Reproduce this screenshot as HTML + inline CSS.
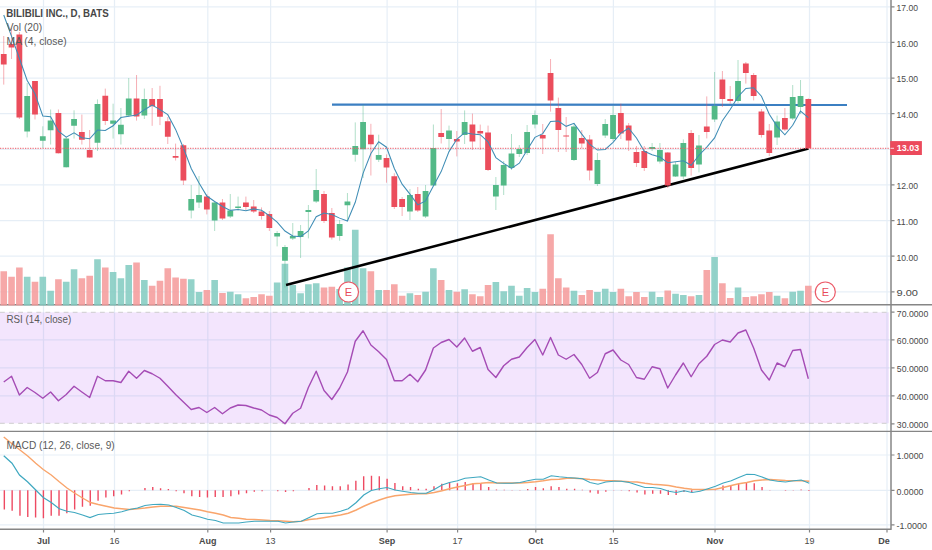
<!DOCTYPE html><html><head><meta charset="utf-8"><style>html,body{margin:0;padding:0;background:#fff;width:932px;height:550px;overflow:hidden}svg{display:block;font-family:"Liberation Sans",sans-serif}</style></head><body>
<svg width="932" height="550" viewBox="0 0 932 550">
<rect x="0" y="0" width="932" height="550" fill="#fff"/>
<rect x="0" y="312.3" width="889" height="111" fill="#f3e5fd"/>
<path d="M0 291.8 H890 M0 256.18 H890 M0 220.55 H890 M0 184.93 H890 M0 149.3 H890 M0 113.68 H890 M0 78.05 H890 M0 42.43 H890 M0 6.8 H890 M0 339.9 H890 M0 367.9 H890 M0 395.8 H890 M0 455 H890 M0 490.3 H890 M0 524.8 H890 M43.5 0 V529 M114.5 0 V529 M207.8 0 V529 M270.6 0 V529 M387.1 0 V529 M457.6 0 V529 M535.8 0 V529 M613.4 0 V529 M715 0 V529 M809.5 0 V529 M887 0 V529" stroke="rgb(100,150,200)" stroke-opacity="0.16" stroke-width="1.2" fill="none"/>
<path d="M0 312.3 H890 M0 423.3 H890" stroke="#c9c9c9" stroke-width="0.9" stroke-dasharray="4.8 4.29" fill="none"/>
<path d="M0 304.8 H932 M0 431.4 H932" stroke="#868686" stroke-width="1.4" fill="none"/>
<path d="M23.88 276.75 h6.6 V305.4 h-6.6 Z M39.5 276.75 h6.6 V305.4 h-6.6 Z M47.31 290.75 h6.6 V305.4 h-6.6 Z M62.93 281.75 h6.6 V305.4 h-6.6 Z M70.75 269.25 h6.6 V305.4 h-6.6 Z M94.18 259.25 h6.6 V305.4 h-6.6 Z M109.8 272 h6.6 V305.4 h-6.6 Z M117.61 278.25 h6.6 V305.4 h-6.6 Z M125.43 265 h6.6 V305.4 h-6.6 Z M141.05 280 h6.6 V305.4 h-6.6 Z M187.92 279.25 h6.6 V305.4 h-6.6 Z M195.73 292 h6.6 V305.4 h-6.6 Z M211.35 280 h6.6 V305.4 h-6.6 Z M226.98 291.75 h6.6 V305.4 h-6.6 Z M234.79 294.25 h6.6 V305.4 h-6.6 Z M273.84 282.5 h6.6 V305.4 h-6.6 Z M281.66 263.75 h6.6 V305.4 h-6.6 Z M289.47 285 h6.6 V305.4 h-6.6 Z M297.28 293.25 h6.6 V305.4 h-6.6 Z M305.09 284.25 h6.6 V305.4 h-6.6 Z M312.9 283.25 h6.6 V305.4 h-6.6 Z M336.34 288.9 h6.6 V305.4 h-6.6 Z M344.15 267.5 h6.6 V305.4 h-6.6 Z M351.96 229.8 h6.6 V305.4 h-6.6 Z M359.77 268.25 h6.6 V305.4 h-6.6 Z M375.39 290 h6.6 V305.4 h-6.6 Z M406.64 293.25 h6.6 V305.4 h-6.6 Z M422.26 291.75 h6.6 V305.4 h-6.6 Z M430.07 268.25 h6.6 V305.4 h-6.6 Z M445.7 290 h6.6 V305.4 h-6.6 Z M461.32 289.25 h6.6 V305.4 h-6.6 Z M492.57 282 h6.6 V305.4 h-6.6 Z M500.38 291.25 h6.6 V305.4 h-6.6 Z M508.19 285.75 h6.6 V305.4 h-6.6 Z M516 295.75 h6.6 V305.4 h-6.6 Z M523.81 288 h6.6 V305.4 h-6.6 Z M531.62 292 h6.6 V305.4 h-6.6 Z M570.68 290.75 h6.6 V305.4 h-6.6 Z M594.12 292 h6.6 V305.4 h-6.6 Z M601.93 288.75 h6.6 V305.4 h-6.6 Z M609.74 292 h6.6 V305.4 h-6.6 Z M648.8 291.75 h6.6 V305.4 h-6.6 Z M656.61 297 h6.6 V305.4 h-6.6 Z M672.23 293.75 h6.6 V305.4 h-6.6 Z M680.04 295 h6.6 V305.4 h-6.6 Z M695.67 295 h6.6 V305.4 h-6.6 Z M711.29 257 h6.6 V305.4 h-6.6 Z M734.72 287.5 h6.6 V305.4 h-6.6 Z M773.78 295.75 h6.6 V305.4 h-6.6 Z M789.4 291.75 h6.6 V305.4 h-6.6 Z M797.22 290.75 h6.6 V305.4 h-6.6 Z" fill="#80cabf" fill-opacity="0.85"/>
<path d="M0.44 271.25 h6.6 V305.4 h-6.6 Z M8.25 276.75 h6.6 V305.4 h-6.6 Z M16.07 267.5 h6.6 V305.4 h-6.6 Z M31.69 281.75 h6.6 V305.4 h-6.6 Z M55.12 279.25 h6.6 V305.4 h-6.6 Z M78.56 278.25 h6.6 V305.4 h-6.6 Z M86.37 275.75 h6.6 V305.4 h-6.6 Z M101.99 267.5 h6.6 V305.4 h-6.6 Z M133.24 262.5 h6.6 V305.4 h-6.6 Z M148.86 285.75 h6.6 V305.4 h-6.6 Z M156.67 280.75 h6.6 V305.4 h-6.6 Z M164.48 268.25 h6.6 V305.4 h-6.6 Z M172.3 277.5 h6.6 V305.4 h-6.6 Z M180.11 278.75 h6.6 V305.4 h-6.6 Z M203.54 290 h6.6 V305.4 h-6.6 Z M219.16 293 h6.6 V305.4 h-6.6 Z M242.6 298.25 h6.6 V305.4 h-6.6 Z M250.41 297 h6.6 V305.4 h-6.6 Z M258.22 294.25 h6.6 V305.4 h-6.6 Z M266.03 295.75 h6.6 V305.4 h-6.6 Z M320.71 287.5 h6.6 V305.4 h-6.6 Z M328.53 286.75 h6.6 V305.4 h-6.6 Z M367.58 271.25 h6.6 V305.4 h-6.6 Z M383.21 290 h6.6 V305.4 h-6.6 Z M391.02 284.25 h6.6 V305.4 h-6.6 Z M398.83 295.75 h6.6 V305.4 h-6.6 Z M414.45 295 h6.6 V305.4 h-6.6 Z M437.89 280 h6.6 V305.4 h-6.6 Z M453.51 291.75 h6.6 V305.4 h-6.6 Z M469.13 294.25 h6.6 V305.4 h-6.6 Z M476.94 296.25 h6.6 V305.4 h-6.6 Z M484.76 285 h6.6 V305.4 h-6.6 Z M539.44 288.75 h6.6 V305.4 h-6.6 Z M547.25 234.2 h6.6 V305.4 h-6.6 Z M555.06 278.25 h6.6 V305.4 h-6.6 Z M562.87 287.5 h6.6 V305.4 h-6.6 Z M578.49 295 h6.6 V305.4 h-6.6 Z M586.3 290 h6.6 V305.4 h-6.6 Z M617.55 288.75 h6.6 V305.4 h-6.6 Z M625.36 296.25 h6.6 V305.4 h-6.6 Z M633.17 292 h6.6 V305.4 h-6.6 Z M640.99 297 h6.6 V305.4 h-6.6 Z M664.42 290.5 h6.6 V305.4 h-6.6 Z M687.85 296.25 h6.6 V305.4 h-6.6 Z M703.48 270 h6.6 V305.4 h-6.6 Z M719.1 283.25 h6.6 V305.4 h-6.6 Z M726.91 298 h6.6 V305.4 h-6.6 Z M742.53 297 h6.6 V305.4 h-6.6 Z M750.35 296.25 h6.6 V305.4 h-6.6 Z M758.16 294.25 h6.6 V305.4 h-6.6 Z M765.97 292 h6.6 V305.4 h-6.6 Z M781.59 298.25 h6.6 V305.4 h-6.6 Z M805.03 285.75 h6.6 V305.4 h-6.6 Z" fill="#f49999" fill-opacity="0.85"/>
<line x1="332" y1="104.6" x2="847" y2="104.9" stroke="#3b7fc2" stroke-width="2.2"/>
<line x1="286" y1="285" x2="808.5" y2="148.6" stroke="#000" stroke-width="2.6"/>
<path d="M27.18 83 V137.4 M42.8 126.3 V148 M50.61 109.5 V144.5 M66.23 137 V167.5 M74.05 110.3 V138.6 M97.48 99.4 V151 M113.1 103.7 V138.6 M120.91 108 V144.5 M128.73 78 V117 M144.35 88.6 V119 M191.22 185 V218.4 M199.03 176 V208 M214.65 202 V231 M230.28 194 V218 M238.09 196.6 V210.4 M277.14 231 V246.4 M284.96 245 V287.5 M292.77 223 V240 M300.58 225 V258 M308.39 205 V238.4 M316.2 169 V203 M339.64 220 V240.7 M347.45 193 V220 M355.26 122.4 V161.6 M363.07 105 V178 M378.69 134.7 V162 M409.94 189 V220 M425.56 185 V218 M433.38 124.5 V186 M449 125.6 V150 M464.62 110.4 V144 M495.87 177 V210 M503.68 161 V195 M511.49 134 V170 M519.3 145 V157 M527.11 125 V155 M534.92 110.4 V128.4 M573.98 123 V161 M597.42 153 V186 M605.23 119 V138 M613.04 106 V141 M652.1 143 V151 M659.91 143 V163.6 M675.53 162 V177 M683.34 139.4 V179 M698.97 135 V172.4 M714.59 72 V122 M738.02 60 V103 M777.08 115.6 V145 M792.7 85 V120 M800.52 80 V114" stroke="#53b987" stroke-width="0.9" stroke-opacity="0.5" fill="none"/>
<path d="M3.74 36 V84.6 M11.55 28 V59 M19.37 32 V119 M34.99 81 V119.5 M58.42 109.5 V153.5 M81.86 114.6 V144.5 M89.67 130 V157.8 M105.29 88.6 V125 M136.54 75 V120.6 M152.16 88 V125.8 M159.97 85.8 V125.1 M167.78 117.1 V144 M175.6 143.6 V160.5 M183.41 144 V185 M206.84 194 V214.4 M222.46 199 V220 M245.9 196.6 V210 M253.71 200 V213 M261.52 207.4 V219.6 M269.33 211 V231 M324.01 191 V223 M331.83 208 V239.6 M370.88 123.8 V175.5 M386.51 154.4 V182.7 M394.32 173.3 V209 M402.13 197 V216 M417.75 187 V212 M441.19 109 V143.5 M456.81 131 V156.4 M472.43 113.6 V150 M480.24 124.6 V150 M488.06 125.6 V171 M542.74 124 V154 M550.55 59 V111.6 M558.36 97.6 V152 M566.17 117 V152 M581.79 130 V148 M589.6 135 V180.4 M620.85 103.6 V139 M628.66 123 V151 M636.47 146 V167 M644.29 146 V171 M667.72 152 V188 M691.15 130 V175.6 M706.78 96.4 V138.4 M722.4 71 V107 M730.21 86 V103.6 M745.83 62 V83.6 M753.65 73 V100.4 M761.46 109 V137.6 M769.27 124 V156 M784.89 108 V131 M808.33 98.4 V149" stroke="#eb4d5c" stroke-width="0.9" stroke-opacity="0.5" fill="none"/>
<path d="M24.28 96 h5.8 v35.4 h-5.8 Z M39.9 136.2 h5.8 v4.6 h-5.8 Z M47.71 120.5 h5.8 v9.7 h-5.8 Z M63.33 138.6 h5.8 v28.7 h-5.8 Z M71.15 119 h5.8 v6.8 h-5.8 Z M94.58 104 h5.8 v38.7 h-5.8 Z M110.2 120.5 h5.8 v3.2 h-5.8 Z M118.01 124.8 h5.8 v9.5 h-5.8 Z M125.83 98.4 h5.8 v17 h-5.8 Z M141.45 99 h5.8 v16.4 h-5.8 Z M188.32 199 h5.8 v11.4 h-5.8 Z M196.13 195 h5.8 v7.6 h-5.8 Z M211.75 202.6 h5.8 v18 h-5.8 Z M227.38 210.6 h5.8 v6 h-5.8 Z M235.19 206.4 h5.8 v1.6 h-5.8 Z M274.25 233 h5.8 v3.6 h-5.8 Z M282.06 247 h5.8 v13.8 h-5.8 Z M289.87 236 h5.8 v2.4 h-5.8 Z M297.68 231 h5.8 v6 h-5.8 Z M305.49 210 h5.8 v2 h-5.8 Z M313.3 190 h5.8 v11.4 h-5.8 Z M336.74 224.1 h5.8 v11.8 h-5.8 Z M344.55 201.6 h5.8 v3.6 h-5.8 Z M352.36 146 h5.8 v8.8 h-5.8 Z M360.17 122 h5.8 v27.3 h-5.8 Z M375.79 155.1 h5.8 v4.6 h-5.8 Z M407.04 195 h5.8 v16.6 h-5.8 Z M422.66 191 h5.8 v25.6 h-5.8 Z M430.48 148.1 h5.8 v37.5 h-5.8 Z M446.1 130.4 h5.8 v8.6 h-5.8 Z M461.72 122 h5.8 v13 h-5.8 Z M492.97 185 h5.8 v11.4 h-5.8 Z M500.78 165 h5.8 v20.6 h-5.8 Z M508.59 153.6 h5.8 v14.4 h-5.8 Z M516.4 149 h5.8 v5 h-5.8 Z M524.21 132 h5.8 v21 h-5.8 Z M532.02 115 h5.8 v9.4 h-5.8 Z M571.08 126.4 h5.8 v33.6 h-5.8 Z M594.52 160 h5.8 v24 h-5.8 Z M602.33 124 h5.8 v11.6 h-5.8 Z M610.14 115 h5.8 v24 h-5.8 Z M649.2 147 h5.8 v2 h-5.8 Z M657.01 150 h5.8 v11.6 h-5.8 Z M672.63 164.4 h5.8 v12 h-5.8 Z M680.44 143 h5.8 v33.4 h-5.8 Z M696.07 145.6 h5.8 v18.8 h-5.8 Z M711.69 106 h5.8 v13.6 h-5.8 Z M735.12 81 h5.8 v20 h-5.8 Z M774.18 121.6 h5.8 v16 h-5.8 Z M789.8 97 h5.8 v21.6 h-5.8 Z M797.62 96 h5.8 v11 h-5.8 Z" fill="#53b987"/>
<path d="M0.84 54 h5.8 v10.6 h-5.8 Z M8.65 44 h5.8 v3.4 h-5.8 Z M16.47 34.6 h5.8 v82.8 h-5.8 Z M32.09 81 h5.8 v33.4 h-5.8 Z M55.52 112.9 h5.8 v40.3 h-5.8 Z M78.96 132 h5.8 v7.8 h-5.8 Z M86.77 150 h5.8 v7.5 h-5.8 Z M102.39 95.7 h5.8 v25.2 h-5.8 Z M133.64 98.4 h5.8 v18.2 h-5.8 Z M149.26 98.9 h5.8 v7.3 h-5.8 Z M157.07 98.9 h5.8 v17.9 h-5.8 Z M164.88 121.2 h5.8 v15.5 h-5.8 Z M172.7 155.9 h5.8 v1.9 h-5.8 Z M180.51 145.2 h5.8 v35.4 h-5.8 Z M203.94 196.6 h5.8 v13 h-5.8 Z M219.56 202.4 h5.8 v16.2 h-5.8 Z M243 202.6 h5.8 v4.4 h-5.8 Z M250.81 206.4 h5.8 v5.2 h-5.8 Z M258.62 211.6 h5.8 v4.4 h-5.8 Z M266.43 214 h5.8 v14 h-5.8 Z M321.11 194 h5.8 v27 h-5.8 Z M328.93 213 h5.8 v24.4 h-5.8 Z M367.98 134.7 h5.8 v9.5 h-5.8 Z M383.61 158 h5.8 v9.5 h-5.8 Z M391.42 176.2 h5.8 v30.8 h-5.8 Z M399.23 199 h5.8 v8 h-5.8 Z M414.85 194 h5.8 v16.4 h-5.8 Z M438.29 133 h5.8 v3.9 h-5.8 Z M453.91 139 h5.8 v2.6 h-5.8 Z M469.53 124.6 h5.8 v17 h-5.8 Z M477.34 131 h5.8 v2.6 h-5.8 Z M485.16 132.6 h5.8 v37.4 h-5.8 Z M539.84 135 h5.8 v3.4 h-5.8 Z M547.65 73 h5.8 v27.4 h-5.8 Z M555.46 108 h5.8 v22 h-5.8 Z M563.27 135.4 h5.8 v1.2 h-5.8 Z M578.89 138 h5.8 v5.4 h-5.8 Z M586.7 139.6 h5.8 v30.8 h-5.8 Z M617.95 113 h5.8 v20.4 h-5.8 Z M625.76 125.6 h5.8 v15 h-5.8 Z M633.57 152 h5.8 v11 h-5.8 Z M641.39 151 h5.8 v17 h-5.8 Z M664.82 152.6 h5.8 v33 h-5.8 Z M688.25 133 h5.8 v35 h-5.8 Z M703.88 126.4 h5.8 v5.6 h-5.8 Z M719.5 79.4 h5.8 v19.6 h-5.8 Z M727.31 99 h5.8 v2 h-5.8 Z M742.93 63.6 h5.8 v9.4 h-5.8 Z M750.75 75 h5.8 v21 h-5.8 Z M758.56 111.4 h5.8 v23.6 h-5.8 Z M766.37 130.4 h5.8 v22.6 h-5.8 Z M781.99 118 h5.8 v11.6 h-5.8 Z M805.43 99 h5.8 v49.2 h-5.8 Z" fill="#eb4d5c"/>
<polyline points="3.74,15 11.55,36.4 19.37,58.2 27.18,80.5 34.99,93.8 42.8,116 50.61,116.78 58.42,131.07 66.23,137.12 74.05,132.82 81.86,137.65 89.67,138.73 97.48,130.07 105.29,130.55 113.1,125.72 120.91,117.55 128.73,116.15 136.54,115.08 144.35,109.7 152.16,105.05 159.97,109.65 167.78,114.67 175.6,129.38 183.41,147.97 191.22,168.53 199.03,183.1 206.84,196.05 214.65,201.55 222.46,206.45 230.28,210.35 238.09,209.55 245.9,210.65 253.71,208.9 261.52,210.25 269.33,215.65 277.14,222.15 284.96,231 292.77,236 300.58,236.75 308.39,231 316.2,216.75 324.01,213 331.83,214.6 339.64,218.12 347.45,221.02 355.26,202.28 363.07,173.43 370.88,153.45 378.69,141.82 386.51,147.2 394.32,168.45 402.13,184.15 409.94,194.12 417.75,204.85 425.56,200.85 433.38,186.12 441.19,171.6 449,151.6 456.81,139.25 464.62,132.72 472.43,133.9 480.24,134.7 488.06,141.8 495.87,157.55 503.68,163.4 511.49,168.4 519.3,163.15 527.11,149.9 534.92,137.4 542.74,133.6 550.55,121.45 558.36,120.95 566.17,126.35 573.98,123.35 581.79,134.1 589.6,144.2 597.42,150.05 605.23,149.45 613.04,142.35 620.85,133.1 628.66,128.25 636.47,138 644.29,151.25 652.1,154.65 659.91,157 667.72,162.65 675.53,161.75 683.34,160.75 691.15,165.25 698.97,155.25 706.78,147.15 714.59,137.9 722.4,120.65 730.21,109.5 738.02,96.75 745.83,88.5 753.65,87.75 761.46,96.25 769.27,114.25 777.08,126.4 784.89,134.8 792.7,125.3 800.52,111.05 808.33,117.7" stroke="#3f8db5" stroke-width="1.05" fill="none"/>
<line x1="0" y1="148.3" x2="891" y2="148.3" stroke="#ef5a66" stroke-width="1" stroke-dasharray="1.25 1.25"/>
<circle cx="348.5" cy="292" r="10" fill="#fff" stroke="#ec5a68" stroke-width="1.2"/>
<text x="348.5" y="296" font-size="11" fill="#e84a5a" text-anchor="middle">E</text>
<circle cx="825.3" cy="292" r="10" fill="#fff" stroke="#ec5a68" stroke-width="1.2"/>
<text x="825.3" y="296" font-size="11" fill="#e84a5a" text-anchor="middle">E</text>
<polyline points="3.74,382 11.55,376.25 19.37,395 27.18,387.5 34.99,392.5 42.8,398.25 50.61,392 58.42,400.75 66.23,394.5 74.05,386.25 81.86,392 89.67,397.5 97.48,376.25 105.29,380.75 113.1,380.75 120.91,382.5 128.73,371.25 136.54,378.25 144.35,370.5 152.16,373.75 159.97,378.25 167.78,386.25 175.6,394.5 183.41,402 191.22,409.5 199.03,407.5 206.84,412.5 214.65,407.5 222.46,413.75 230.28,408 238.09,405 245.9,405.5 253.71,408 261.52,410 269.33,415 277.14,417.5 284.96,423.75 292.77,413.25 300.58,408.25 308.39,387.5 316.2,371.25 324.01,390.5 331.83,399.5 339.64,388 347.45,372 355.26,341.25 363.07,330.75 370.88,345 378.69,351.75 386.51,359.5 394.32,380.75 402.13,380.75 409.94,374.25 417.75,381.75 425.56,370 433.38,348 441.19,342.5 449,339.5 456.81,347 464.62,338 472.43,351.25 480.24,347.5 488.06,369.5 495.87,377.5 503.68,365.75 511.49,359.25 519.3,357 527.11,347.5 534.92,339.5 542.74,355 550.55,337.5 558.36,355 566.17,359.25 573.98,354.5 581.79,364.5 589.6,378.25 597.42,372.5 605.23,353.75 613.04,350 620.85,360 628.66,364.5 636.47,377.5 644.29,379.25 652.1,366.75 659.91,368.75 667.72,388 675.53,375 683.34,363 691.15,376.75 698.97,363.75 706.78,356.25 714.59,344.5 722.4,340 730.21,342 738.02,333 745.83,330 753.65,348 761.46,370 769.27,380 777.08,363 784.89,366.75 792.7,350.5 800.52,349.5 808.33,378.75" stroke="#a54cb5" stroke-width="1.4" fill="none" stroke-linejoin="round"/>
<path d="M4.34 490.3 V509.5 M12.15 490.3 V510.75 M19.97 490.3 V515.75 M27.78 490.3 V517 M35.59 490.3 V517.5 M43.4 490.3 V518.25 M51.21 490.3 V515.75 M59.02 490.3 V515.75 M66.83 490.3 V513.25 M74.65 490.3 V509.5 M82.46 490.3 V506.75 M90.27 490.3 V505.75 M98.08 490.3 V500.75 M105.89 490.3 V497.5 M113.7 490.3 V496.25 M121.51 490.3 V494.5 M129.33 490.3 V491.25 M144.95 490.3 V488 M152.76 490.3 V487 M160.57 490.3 V488.25 M168.38 490.3 V489 M176.2 490.3 V491.25 M184.01 490.3 V493.25 M191.82 490.3 V496.25 M199.63 490.3 V497 M207.44 490.3 V497.5 M215.25 490.3 V497 M223.06 490.3 V497 M230.88 490.3 V496.25 M238.69 490.3 V494.5 M246.5 490.3 V493.25 M254.31 490.3 V491.75 M262.12 490.3 V491.25 M277.75 490.3 V491.25 M285.56 490.3 V492 M293.37 490.3 V491.25 M308.99 490.3 V488 M316.8 490.3 V485 M324.61 490.3 V485.5 M332.43 490.3 V486.25 M340.24 490.3 V486.25 M348.05 490.3 V484.5 M355.86 490.3 V480.75 M363.67 490.3 V476.25 M371.48 490.3 V475.75 M379.29 490.3 V476.25 M387.11 490.3 V478.75 M394.92 490.3 V483 M402.73 490.3 V486.25 M410.54 490.3 V487 M418.35 490.3 V488.75 M426.16 490.3 V488.75 M433.98 490.3 V486.25 M441.79 490.3 V483.8 M449.6 490.3 V482.3 M457.41 490.3 V483.25 M465.22 490.3 V482 M473.03 490.3 V483 M480.84 490.3 V483 M488.66 490.3 V487 M496.47 490.3 V489.5 M504.28 490.3 V489.7 M512.09 490.3 V490 M519.9 490.3 V490 M527.71 490.3 V489 M535.52 490.3 V487 M543.34 490.3 V488.25 M551.15 490.3 V486.25 M558.96 490.3 V487 M566.77 490.3 V488.75 M574.58 490.3 V488.75 M582.39 490.3 V489.7 M590.2 490.3 V492.5 M598.02 490.3 V493.75 M605.83 490.3 V491.75 M613.64 490.3 V490 M621.45 490.3 V490 M629.26 490.3 V491.25 M637.07 490.3 V492.5 M644.89 490.3 V494.5 M652.7 490.3 V493.75 M660.51 490.3 V493.75 M668.32 490.3 V495 M676.13 490.3 V495 M683.94 490.3 V492 M691.75 490.3 V492.5 M699.57 490.3 V489.5 M715.19 490.3 V489.3 M723 490.3 V485.5 M730.81 490.3 V485 M738.62 490.3 V483.25 M746.43 490.3 V482 M754.25 490.3 V483.25 M762.06 490.3 V487 M769.87 490.3 V490 M785.49 490.3 V490.75 M793.3 490.3 V490 M801.12 490.3 V489.5 M808.93 490.3 V491" stroke="#ee4a62" stroke-width="1.4" fill="none"/>
<polyline points="3.75,437 12,443.75 20,450 28,456.25 35.75,463.25 43.25,469.5 51.25,475 59.25,481.75 67,488 74.5,493 82.5,498 90.5,502.5 98.25,504.5 106.25,506.25 114.25,508 121.75,508.75 129.5,509.5 137.5,508.75 145,508 153,507 160.75,506.25 168.75,506.25 176.25,506.25 184.25,507.5 192,508.75 200,510 207.5,511.75 215.5,513.25 223.25,515 230.75,517.5 238.75,518.25 246.25,519.25 254.5,519.5 262.5,520 270,520.5 278,520.75 285.5,521.25 293.25,521.75 301.25,521.25 309.25,519.5 317,518.75 325,517.5 332.5,516.25 340.5,515 348.25,513.25 356.25,510 363.75,506.25 371.25,503 379.25,500 387,497.5 395,495.75 402.5,495 410.75,494.25 418.25,493.75 426.25,493.75 434.25,492.5 442,490.75 449.5,488.75 457.5,487 465,485.5 473,483.75 480.75,483.25 488.75,482.5 496.75,483 504.5,483 512,483 520,483 527.5,482.5 535.5,481.75 543.25,480.75 551.25,479.5 559.25,479.25 567,478.25 574.5,478.25 582.5,478.75 590,479.5 598,480 605.75,480.75 613.75,480.75 621.25,481.25 629.25,481.75 637,482 645,483.25 652.5,484.25 660.5,484.75 668.75,485.5 676.25,487 684.25,488.25 692,489.25 700,489.5 708,489.5 715.5,489.25 723.25,487.5 731.25,485.5 738.75,483.75 746.75,482.5 754.5,480.75 762,480 770,479.5 777.5,480 785.5,480.5 793.75,480.75 801.25,480.75 809.25,481.25" stroke="#f9a56c" stroke-width="1.4" fill="none"/>
<polyline points="3.75,455.75 12,463.25 19.5,475 27.5,481.75 35.75,490 43.25,497.5 51.25,502.5 59.25,508.75 67,511.25 74.5,512.5 82.5,515 90,517.5 98.25,514.5 106.25,513.75 113.75,513.25 121.75,511.75 129.5,509.5 137.5,508 145,505.5 153,504.5 160.75,504.25 168.75,505 176.25,507.5 184.25,510.5 192,515 200,517 207.5,519.25 215.5,520.5 223.25,523 230.75,523 238.75,523 246.25,522 254.5,521.25 262.5,521.25 270,521.25 278,521.25 285.5,523 293.25,522 301.25,521.25 309.25,517.5 317,513.75 325,513.25 332.5,513.25 340.5,511.25 348.25,508.75 356.25,502.5 363.75,495 371.25,490.5 379.25,488.75 387,487.5 395,490 402.5,491.25 410.75,492.5 418.25,493.25 426.25,493.25 434.25,489.5 442,485 449.5,482.5 457.5,480.75 465,478.25 473,477.5 480.75,476.75 488.75,480 496.75,483 504.5,483.25 512,483.25 520,482.5 527.5,480.75 535.5,479.25 543.25,479.25 551.25,475.75 559.25,476.75 567,477.5 574.5,478 582.5,478.75 590,482.5 598,484.25 605.75,482 613.75,481.25 621.25,481.25 629.25,482.5 637,485 645,487.5 652.5,487.5 660.5,488.5 668.75,491.25 676.25,492.5 684.25,490.75 692,492.5 700,491.25 708,488.75 715.5,486.25 723.25,483 731.25,480.75 738.75,477.5 746.75,474.25 754.5,474.5 762,477 770,480 777.5,481.25 785.5,482 793.75,480.75 801.25,480 809.25,483.25" stroke="#3fa8c0" stroke-width="1.2" fill="none"/>
<path d="M891 0 V529.5 M0 529.3 H891.6" stroke="#868686" stroke-width="1.5" fill="none"/>
<path d="M43.5 529 V532.5 M114.5 529 V532.5 M207.8 529 V532.5 M270.6 529 V532.5 M387.1 529 V532.5 M457.6 529 V532.5 M535.8 529 V532.5 M613.4 529 V532.5 M715 529 V532.5 M809.5 529 V532.5 M887 529 V532.5" stroke="#868686" stroke-width="1.2" fill="none"/>
<path d="M891 291.8 H894.5 M891 256.18 H894.5 M891 220.55 H894.5 M891 184.93 H894.5 M891 149.3 H894.5 M891 113.68 H894.5 M891 78.05 H894.5 M891 42.43 H894.5 M891 6.8 H894.5 M891 312.1 H894.5 M891 339.9 H894.5 M891 367.9 H894.5 M891 395.8 H894.5 M891 423.8 H894.5 M891 455 H894.5 M891 490.3 H894.5 M891 524.8 H894.5" stroke="#868686" stroke-width="1.2" fill="none"/>
<text x="896.5" y="296.2" font-size="9.8" fill="#4a4a4a" textLength="21.5" lengthAdjust="spacingAndGlyphs">9.00</text>
<text x="896.5" y="260.57" font-size="9.8" fill="#4a4a4a" textLength="21.5" lengthAdjust="spacingAndGlyphs">10.00</text>
<text x="896.5" y="224.95" font-size="9.8" fill="#4a4a4a" textLength="21.5" lengthAdjust="spacingAndGlyphs">11.00</text>
<text x="896.5" y="189.33" font-size="9.8" fill="#4a4a4a" textLength="21.5" lengthAdjust="spacingAndGlyphs">12.00</text>
<text x="896.5" y="153.7" font-size="9.8" fill="#4a4a4a" textLength="21.5" lengthAdjust="spacingAndGlyphs">13.00</text>
<text x="896.5" y="118.08" font-size="9.8" fill="#4a4a4a" textLength="21.5" lengthAdjust="spacingAndGlyphs">14.00</text>
<text x="896.5" y="82.45" font-size="9.8" fill="#4a4a4a" textLength="21.5" lengthAdjust="spacingAndGlyphs">15.00</text>
<text x="896.5" y="46.83" font-size="9.8" fill="#4a4a4a" textLength="21.5" lengthAdjust="spacingAndGlyphs">16.00</text>
<text x="896.5" y="11.2" font-size="9.8" fill="#4a4a4a" textLength="21.5" lengthAdjust="spacingAndGlyphs">17.00</text>
<text x="896.8" y="316.5" font-size="9.8" fill="#4a4a4a" textLength="31.5" lengthAdjust="spacingAndGlyphs">70.0000</text>
<text x="896.8" y="344.3" font-size="9.8" fill="#4a4a4a" textLength="31.5" lengthAdjust="spacingAndGlyphs">60.0000</text>
<text x="896.8" y="372.3" font-size="9.8" fill="#4a4a4a" textLength="31.5" lengthAdjust="spacingAndGlyphs">50.0000</text>
<text x="896.8" y="400.2" font-size="9.8" fill="#4a4a4a" textLength="31.5" lengthAdjust="spacingAndGlyphs">40.0000</text>
<text x="896.8" y="428.2" font-size="9.8" fill="#4a4a4a" textLength="31.5" lengthAdjust="spacingAndGlyphs">30.0000</text>
<text x="896.5" y="459.4" font-size="9.8" fill="#4a4a4a" textLength="27" lengthAdjust="spacingAndGlyphs">1.0000</text>
<text x="896.5" y="494.7" font-size="9.8" fill="#4a4a4a" textLength="27" lengthAdjust="spacingAndGlyphs">0.0000</text>
<text x="896.5" y="529.2" font-size="9.8" fill="#4a4a4a" textLength="30.5" lengthAdjust="spacingAndGlyphs">-1.0000</text>
<rect x="890.2" y="141.1" width="31.7" height="13.9" fill="#ec4a5c"/>
<path d="M890.5 148.3 H894" stroke="#fff" stroke-width="1" stroke-opacity="0.8"/>
<text x="896.8" y="151.4" font-size="9.6" font-weight="bold" fill="#fff" textLength="22.3" lengthAdjust="spacingAndGlyphs">13.03</text>
<text x="43.5" y="544.2" font-size="9" fill="#4a4a4a" text-anchor="middle" font-weight="bold">Jul</text>
<text x="114.5" y="544.2" font-size="9" fill="#4a4a4a" text-anchor="middle">16</text>
<text x="207.8" y="544.2" font-size="9" fill="#4a4a4a" text-anchor="middle" font-weight="bold">Aug</text>
<text x="270.6" y="544.2" font-size="9" fill="#4a4a4a" text-anchor="middle">13</text>
<text x="387.1" y="544.2" font-size="9" fill="#4a4a4a" text-anchor="middle" font-weight="bold">Sep</text>
<text x="457.6" y="544.2" font-size="9" fill="#4a4a4a" text-anchor="middle">17</text>
<text x="535.8" y="544.2" font-size="9" fill="#4a4a4a" text-anchor="middle" font-weight="bold">Oct</text>
<text x="613.4" y="544.2" font-size="9" fill="#4a4a4a" text-anchor="middle">15</text>
<text x="715" y="544.2" font-size="9" fill="#4a4a4a" text-anchor="middle" font-weight="bold">Nov</text>
<text x="809.5" y="544.2" font-size="9" fill="#4a4a4a" text-anchor="middle">19</text>
<text x="884" y="544.2" font-size="9" fill="#4a4a4a" text-anchor="middle" font-weight="bold">De</text>
<text x="6.3" y="17.3" font-size="10.6" font-weight="bold" fill="#474747" textLength="102.5" lengthAdjust="spacingAndGlyphs">BILIBILI INC., D, BATS</text>
<text x="6.8" y="31.3" font-size="10.6" fill="#5a5a5a" textLength="35.3" lengthAdjust="spacingAndGlyphs">Vol (20)</text>
<text x="6.6" y="45.4" font-size="10.6" fill="#5a5a5a" textLength="60" lengthAdjust="spacingAndGlyphs">MA (4, close)</text>
<text x="6.4" y="322.5" font-size="10.6" fill="#5a5a5a" textLength="64.8" lengthAdjust="spacingAndGlyphs">RSI (14, close)</text>
<text x="6.4" y="449.2" font-size="10.6" fill="#5a5a5a" textLength="108.3" lengthAdjust="spacingAndGlyphs">MACD (12, 26, close, 9)</text>
</svg></body></html>
